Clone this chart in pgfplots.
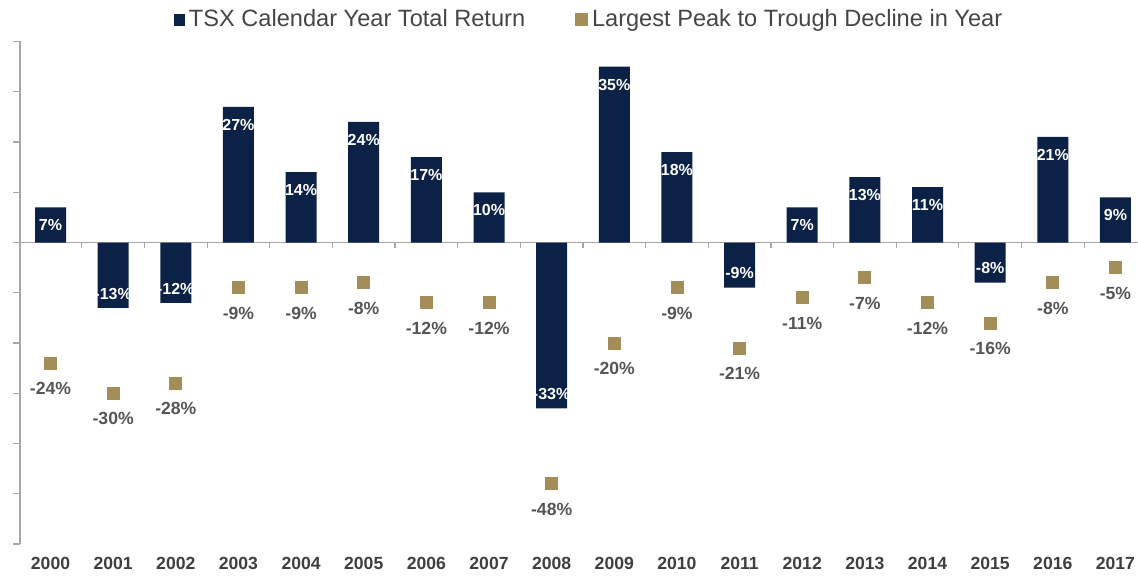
\documentclass[border=0pt]{standalone}
\usepackage{pgfplots}
\pgfplotsset{compat=1.18}
\usepackage{fontspec}
\setmainfont{Liberation Sans}
\definecolor{navy}{HTML}{0B2145}
\definecolor{tan}{HTML}{A38E5A}
\definecolor{lblgray}{HTML}{555555}
\definecolor{yeargray}{HTML}{3F3F3F}
\definecolor{axgray}{HTML}{A6A6A6}
\definecolor{leggray}{HTML}{454545}
\begin{document}
\begin{tikzpicture}
\begin{axis}[
  scale only axis, width=559pt, height=251.25pt,
  xmin=-0.487, xmax=17.36, ymin=-60, ymax=40,
  clip=false,
  axis y line*=left, axis x line*=bottom,
  y axis line style={-, draw=axgray, line width=0.6pt},
  x axis line style={draw=none},
  ytick={-60,-50,...,40}, yticklabels={},
  ytick style={draw=axgray, line width=0.6pt},
  tick align=outside, major tick length=3.5pt,
  xtick={0,...,17},
  xticklabels={2000,2001,2002,2003,2004,2005,2006,2007,2008,2009,2010,2011,2012,2013,2014,2015,2016,2017},
  xtick style={draw=none},
  xticklabel style={font=\bfseries\fontsize{8.8}{10}\selectfont, text=yeargray, inner sep=0pt, text height=6.3pt, text depth=0pt},
  xticklabel shift=2.6pt,
  /pgf/number format/assume math mode=true,
  legend columns=2,
  legend style={at={(0.51,1)}, anchor=center, yshift=10.8pt, draw=none, fill=none,
    font=\fontsize{11.8}{14}\selectfont, text=leggray,
    /tikz/every even column/.append style={column sep=23pt}},
  legend cell align=left,
]
\coordinate (O) at (rel axis cs:0,0);
\draw[axgray, line width=0.6pt] (axis cs:-0.487,0) -- (axis cs:17.36,0);
\pgfplotsinvokeforeach{0.5,1.5,...,16.5}{\draw[axgray, line width=0.6pt] (axis cs:#1,0) -- ++(0pt,-2.5pt);}
% positive returns
\addplot[ybar, bar width=15.5pt, bar shift=0pt, fill=navy, draw=none,
  legend image code/.code={\fill[navy] (0pt,-2.9pt) rectangle (5.4pt,2.9pt);},
  nodes near coords={\pgfmathprintnumber{\pgfplotspointmeta}\%},
  every node near coord/.append style={font=\bfseries\fontsize{8}{9}\selectfont, text=white, inner sep=0pt, text height=5.8pt, text depth=0pt, yshift=-11.9pt}]
  coordinates {(0,7) (3,27) (4,14) (5,24) (6,17) (7,10) (9,35) (10,18) (12,7) (13,13) (14,11) (16,21) (17,9)};
\addlegendentry{TSX Calendar Year Total Return}
% negative returns
\addplot[ybar, bar width=15.5pt, bar shift=0pt, fill=navy, draw=none, forget plot,
  nodes near coords={\pgfmathprintnumber{\pgfplotspointmeta}\%},
  every node near coord/.append style={font=\bfseries\fontsize{8}{9}\selectfont, text=white, inner sep=0pt, text height=5.8pt, text depth=0pt, yshift=10.4pt}]
  coordinates {(1,-13) (2,-12) (8,-33) (11,-9) (15,-8)};
% largest decline
\addplot[only marks, mark=square*, mark size=3pt, color=tan, mark options={fill=tan, draw=none},
  legend image code/.code={\fill[tan] (0pt,-3pt) rectangle (6pt,3pt);},
  nodes near coords={\pgfmathprintnumber{\pgfplotspointmeta}\%},
  every node near coord/.append style={font=\bfseries\fontsize{8.8}{10}\selectfont, text=lblgray, inner sep=0pt, text height=6.3pt, text depth=0pt, yshift=-9.3pt}]
  coordinates {(0,-24) (1,-30) (2,-28) (3,-9) (4,-9) (5,-8) (6,-12) (7,-12) (8,-48) (9,-20) (10,-9) (11,-21) (12,-11) (13,-7) (14,-12) (15,-16) (16,-8) (17,-5)};
\addlegendentry{Largest Peak to Trough Decline in Year}
\end{axis}
\pgfresetboundingbox
\path[use as bounding box] ([shift={(-10pt,-15.5pt)}]O) rectangle ([shift={(559pt,272pt)}]O);
\end{tikzpicture}
\end{document}
